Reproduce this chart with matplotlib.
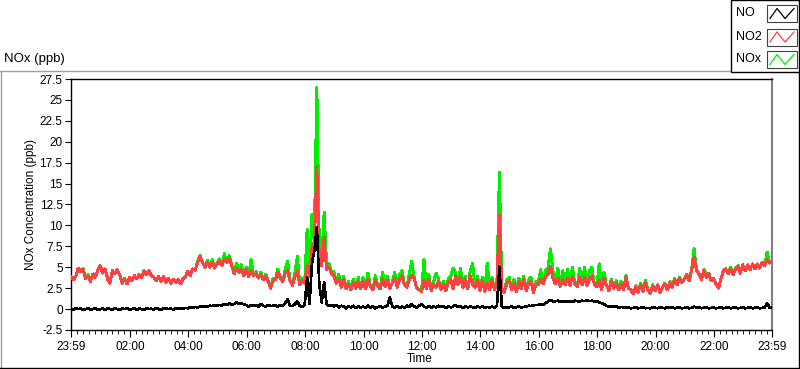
import numpy as np
import matplotlib
matplotlib.use("Agg")
import matplotlib.pyplot as plt
from matplotlib.lines import Line2D
from matplotlib.patches import Rectangle

plt.rcParams['font.family'] = ['Liberation Sans', 'DejaVu Sans']

# ---------------- data (5-minute samples from 23:59 to 23:59) ----------------
start_label = "23:59"
step_min = 5

no2 = [
    3.9, 3.5, 4.0, 4.9, 4.5, 4.7, 3.6, 3.9, 3.3, 4.2, 3.8, 4.7,
    5.2, 4.3, 4.8, 3.6, 3.1, 4.6, 4.2, 4.7, 4.1, 3.1, 3.7, 3.0,
    3.8, 3.4, 4.0, 3.6, 4.1, 3.8, 4.5, 4.1, 4.6, 4.0, 3.8, 3.4,
    3.9, 3.3, 3.8, 3.2, 3.7, 3.1, 3.6, 3.2, 3.5, 3.0, 3.6, 3.9,
    4.5, 4.0, 4.8, 4.6, 5.6, 6.3, 5.6, 5.0, 5.6, 5.0, 5.6, 4.9,
    5.4, 5.7, 5.2, 6.0, 5.6, 6.1, 5.3, 4.2, 4.9, 4.4, 4.7, 4.0,
    4.7, 3.9, 4.6, 4.0, 4.2, 3.7, 4.1, 3.5, 3.9, 3.3, 2.5, 3.4,
    3.5, 4.4, 3.7, 3.3, 4.3, 4.6, 3.4, 2.8, 3.9, 4.5, 2.9, 3.4,
    3.1, 5.2, 3.9, 7.4, 8.0, 17.0, 6.2, 5.2, 8.6, 4.7, 5.0, 4.3,
    4.0, 3.1, 3.7, 2.6, 3.5, 2.4, 3.0, 2.3, 3.2, 2.5, 3.3, 2.4,
    3.3, 2.4, 3.5, 2.7, 2.3, 3.4, 2.8, 2.4, 3.6, 2.7, 3.4, 2.5,
    3.1, 3.7, 2.6, 3.5, 4.0, 2.9, 2.6, 3.6, 4.0, 3.7, 2.5, 2.3,
    2.1, 3.4, 2.4, 3.6, 2.2, 3.0, 2.6, 3.3, 2.3, 3.0, 2.2, 3.2,
    3.5, 2.4, 3.9, 2.9, 3.8, 2.6, 3.5, 2.4, 4.0, 2.9, 2.6, 3.5,
    2.2, 3.4, 2.1, 3.1, 2.3, 3.4, 2.3, 3.1, 11.2, 2.4, 2.0, 3.0,
    3.4, 2.3, 3.1, 2.1, 3.3, 2.4, 3.5, 2.2, 3.1, 3.3, 2.0, 2.9,
    2.9, 3.6, 3.0, 3.9, 4.2, 5.1, 3.7, 3.0, 3.7, 2.7, 3.5, 2.9,
    3.7, 2.8, 3.9, 3.0, 2.7, 3.8, 2.9, 3.8, 2.8, 3.5, 4.0, 3.0,
    2.7, 3.4, 2.3, 3.7, 2.8, 2.2, 3.3, 2.5, 3.1, 2.3, 3.0, 2.3,
    3.8, 2.5, 2.3, 1.8, 2.6, 2.0, 2.9, 2.1, 3.2, 2.3, 1.9, 2.7,
    2.2, 2.8, 2.0, 2.6, 3.0, 2.3, 3.1, 2.6, 3.5, 2.9, 3.7, 3.2,
    3.6, 4.1, 3.4, 4.7, 6.2, 4.6, 4.2, 3.5, 4.6, 3.8, 4.3, 3.4,
    3.7, 3.0, 2.5, 3.6, 4.5, 4.8, 4.2, 4.9, 4.1, 4.7, 5.1, 4.3,
    5.3, 4.6, 5.2, 4.7, 5.4, 4.8, 5.3, 4.9, 5.6, 5.2, 5.9, 5.5, 5.8,
]

nox = [
    3.9, 3.5, 4.0, 4.9, 4.5, 4.8, 3.6, 4.1, 3.3, 4.2, 3.8, 4.7,
    5.2, 4.3, 4.8, 3.8, 3.1, 4.6, 4.2, 4.7, 4.1, 3.3, 3.7, 3.0,
    3.8, 3.4, 4.0, 3.6, 4.1, 3.8, 4.6, 4.1, 4.6, 4.0, 3.8, 3.4,
    3.9, 3.3, 3.9, 3.2, 3.7, 3.1, 3.6, 3.3, 3.5, 3.0, 3.6, 3.9,
    4.5, 4.0, 4.8, 4.6, 5.7, 6.4, 5.6, 5.0, 5.8, 5.0, 5.9, 4.9,
    5.4, 6.0, 5.2, 6.6, 5.6, 6.4, 5.3, 4.2, 5.5, 4.4, 5.3, 4.0,
    5.0, 3.9, 5.9, 4.0, 4.5, 3.7, 4.4, 3.5, 4.2, 3.3, 2.5, 3.7,
    3.5, 4.8, 3.7, 3.3, 4.7, 5.7, 3.4, 2.8, 4.3, 6.3, 2.9, 3.7,
    3.1, 9.5, 3.9, 11.3, 9.0, 26.5, 7.8, 5.6, 11.6, 5.4, 5.5, 4.3,
    4.5, 3.1, 4.2, 2.6, 3.9, 2.4, 3.3, 2.3, 3.6, 2.5, 3.8, 2.4,
    3.8, 2.4, 4.3, 2.7, 2.3, 4.0, 2.8, 2.4, 4.4, 2.7, 3.9, 2.5,
    3.1, 4.4, 2.6, 4.1, 4.6, 2.9, 2.6, 4.2, 5.7, 3.7, 2.5, 2.3,
    2.1, 5.9, 2.4, 4.2, 2.2, 3.3, 4.3, 3.6, 2.3, 3.3, 2.2, 3.6,
    3.9, 4.9, 4.3, 2.9, 4.9, 2.6, 3.9, 2.4, 4.5, 5.5, 2.6, 3.9,
    2.2, 3.8, 2.1, 5.5, 2.3, 3.8, 2.3, 3.5, 16.3, 2.4, 2.0, 3.4,
    3.8, 2.3, 3.5, 2.1, 3.7, 2.4, 3.9, 2.2, 3.5, 3.8, 2.0, 3.3,
    3.3, 4.7, 3.0, 4.6, 5.0, 7.2, 4.6, 3.0, 4.9, 2.7, 4.6, 2.9,
    4.8, 2.8, 5.0, 3.0, 2.7, 4.9, 2.9, 5.0, 2.8, 4.6, 5.0, 3.0,
    2.7, 5.4, 2.3, 4.4, 2.8, 2.2, 3.6, 2.5, 3.4, 2.3, 3.3, 2.3,
    4.0, 2.5, 2.3, 1.8, 2.8, 2.0, 3.1, 2.1, 3.4, 2.3, 1.9, 2.9,
    2.2, 2.9, 2.0, 2.6, 3.1, 2.3, 3.3, 2.6, 3.7, 2.9, 3.8, 3.2,
    3.6, 4.2, 3.4, 4.8, 7.2, 4.6, 4.3, 3.5, 4.7, 4.2, 4.3, 3.4,
    3.7, 3.0, 2.5, 3.6, 4.6, 4.8, 4.2, 5.0, 4.1, 4.8, 5.2, 4.3,
    5.3, 4.6, 5.3, 4.7, 5.4, 4.8, 5.4, 4.9, 5.6, 5.2, 6.8, 5.5, 5.8,
]

no = [
    0.0, -0.1, 0.1, 0.0, 0.05, -0.1, 0.0, 0.1, -0.05, 0.0, 0.1, -0.1,
    0.0, 0.05, -0.1, 0.1, 0.0, -0.05, 0.1, 0.0, -0.1, 0.05, 0.0, 0.1,
    -0.05, 0.0, 0.1, -0.1, 0.05, 0.0, -0.1, 0.1, 0.0, 0.05, -0.05, 0.1,
    0.0, -0.1, 0.05, 0.1, 0.0, 0.05, -0.05, 0.1, 0.0, 0.1, 0.05, 0.15,
    0.1, 0.2, 0.15, 0.25, 0.2, 0.3, 0.25, 0.35, 0.3, 0.4, 0.35, 0.45,
    0.4, 0.5, 0.45, 0.6, 0.5, 0.7, 0.55, 0.6, 0.8, 0.6, 0.7, 0.55,
    0.5, 0.3, 0.45, 0.35, 0.5, 0.3, 0.6, 0.4, 0.3, 0.5, 0.35, 0.4,
    0.45, 0.3, 0.5, 0.4, 0.7, 1.2, 0.4, 0.35, 0.6, 0.9, 0.4, 0.3,
    0.5, 3.8, 0.6, 5.5, 7.0, 9.8, 3.0, 0.8, 3.2, 0.6, 0.4, 0.5,
    0.3, 0.5, 0.2, 0.4, 0.3, 0.1, 0.35, 0.2, 0.4, 0.15, 0.3, 0.2,
    0.3, 0.15, 0.4, 0.2, 0.3, 0.1, 0.25, 0.35, 0.2, 0.3, 0.4, 1.4,
    0.3, 0.2, 0.35, 0.15, 0.3, 0.2, 0.4, 0.25, 0.6, 0.3, 0.2, 0.4,
    0.6, 0.3, 0.2, 0.35, 0.15, 0.3, 0.2, 0.4, 0.25, 0.3, 0.15, 0.35,
    0.2, 0.3, 0.5, 0.25, 0.3, 0.15, 0.35, 0.2, 0.3, 0.25, 0.15, 0.3,
    0.2, 0.3, 0.15, 0.25, 0.2, 0.3, 0.2, 0.4, 5.1, 0.3, 0.15, 0.25,
    0.2, 0.3, 0.15, 0.25, 0.3, 0.2, 0.25, 0.3, 0.4, 0.35, 0.45, 0.5,
    0.5, 0.6, 0.55, 0.7, 0.9, 1.1, 0.9, 0.95, 1.0, 0.85, 0.95, 0.9,
    0.9, 0.95, 0.85, 1.0, 0.95, 0.9, 1.0, 0.95, 1.05, 0.95, 1.0, 0.9,
    0.95, 0.8, 0.7, 0.6, 0.4, 0.3, 0.35, 0.25, 0.3, 0.2, 0.25, 0.2,
    0.15, 0.2, 0.1, 0.15, 0.2, 0.1, 0.15, 0.2, 0.1, 0.15, 0.1, 0.2,
    0.15, 0.1, 0.2, 0.15, 0.1, 0.25, 0.15, 0.2, 0.1, 0.15, 0.2, 0.1,
    0.15, 0.2, 0.1, 0.15, 0.3, 0.15, 0.2, 0.1, 0.15, 0.2, 0.1, 0.15,
    0.2, 0.1, 0.15, 0.2, 0.1, 0.15, 0.2, 0.1, 0.15, 0.2, 0.1, 0.15,
    0.2, 0.1, 0.15, 0.2, 0.1, 0.15, 0.2, 0.1, 0.15, 0.2, 0.7, 0.15, 0.2,
]

x_tick_labels = ["23:59", "02:00", "04:00", "06:00", "08:00", "10:00", "12:00",
                 "14:00", "16:00", "18:00", "20:00", "22:00", "23:59"]
y_ticks = [-2.5, 0, 2.5, 5, 7.5, 10, 12.5, 15, 17.5, 20, 22.5, 25, 27.5]
y_tick_labels = ["-2.5", "0", "2.5", "5", "7.5", "10", "12.5", "15", "17.5",
                 "20", "22.5", "25", "27.5"]
series_names = ["NO", "NO2", "NOx"]
series_colors = ["#000000", "#ff4040", "#00ee00"]

# ---------------- figure ----------------
W, H = 800, 369
fig = plt.figure(figsize=(W / 100, H / 100), dpi=100)
fig.patch.set_facecolor("white")

def hm(s):
    h, m = s.split(":")
    return int(h) * 60 + int(m)

t0 = hm(start_label)
total = 1440
t = np.arange(len(no2)) * step_min

ax = fig.add_axes([71 / W, 1 - 330 / H, (772 - 71) / W, (330 - 79) / H])
ax.plot(t, nox, color=series_colors[2], lw=1.4, zorder=2, antialiased=False)
ax.plot(t, no2, color=series_colors[1], lw=1.4, zorder=3, antialiased=False)
ax.plot(t, no, color=series_colors[0], lw=1.2, zorder=4, antialiased=False)

ax.set_xlim(0, total)
ax.set_ylim(-2.5, 27.5)

xt = [((hm(s) - t0) % 1440) for s in x_tick_labels]
xt[-1] = total
ax.set_xticks(xt)
ax.set_xticklabels(x_tick_labels)
minor = [m for m in range(1, total, 12) if all(abs(m - v) > 2 for v in xt)]
ax.set_xticks(minor, minor=True)
ax.set_yticks(y_ticks)
ax.set_yticklabels(y_tick_labels)

ax.tick_params(axis="both", labelsize=8.5, colors="black", width=0.8)
ax.tick_params(axis="x", which="major", length=5, direction="out", pad=3)
ax.tick_params(axis="x", which="minor", length=3, direction="out")
ax.tick_params(axis="y", which="major", length=4, direction="out", pad=2)

for side in ["left", "bottom", "top"]:
    ax.spines[side].set_color("black")
    ax.spines[side].set_linewidth(1)
ax.spines["right"].set_color("#808080")
ax.spines["right"].set_linewidth(1.5)

ax.set_xlabel("Time", fontsize=8.5, labelpad=1)
ax.xaxis.set_label_coords((420 - 71) / (772 - 71), -0.09)
ax.set_ylabel("NOx Concentration (ppb)", fontsize=8.5, labelpad=2)

# ---------------- overlay: title, frame, legend ----------------
ov = fig.add_axes([0, 0, 1, 1], zorder=-1)
ov.set_xlim(0, W)
ov.set_ylim(H, 0)
ov.axis("off")

ov.text(4, 59, "NOx (ppb)", fontsize=9.5, va="center", ha="left")
ov.add_line(Line2D([0, 730], [70.5, 70.5], color="#a0a0a0", lw=1))
ov.add_line(Line2D([0.5, 0.5], [70.5, 368], color="#a0a0a0", lw=1))
ov.add_line(Line2D([0, 799], [367.5, 367.5], color="black", lw=1))
ov.add_line(Line2D([798.5, 798.5], [72, 368], color="black", lw=1))

ov2 = fig.add_axes([0, 0, 1, 1], zorder=5)
ov2.set_xlim(0, W)
ov2.set_ylim(H, 0)
ov2.axis("off")
ov2.add_patch(Rectangle((730.5, 0), 68, 72, facecolor="white", edgecolor="black", lw=1))
rows = [13.5, 37, 59.5]
for name, col, yc in zip(series_names, series_colors, rows):
    ov2.text(736, yc, name, fontsize=9, va="center", ha="left")
    ov2.add_patch(Rectangle((767, yc - 8.5), 30, 17, facecolor="white", edgecolor="#404040", lw=0.8))
    ov2.add_line(Line2D([770, 777, 785, 794], [yc + 5, yc - 5, yc + 5, yc - 5], color=col, lw=0.9))

fig.savefig("out.png", dpi=100)
